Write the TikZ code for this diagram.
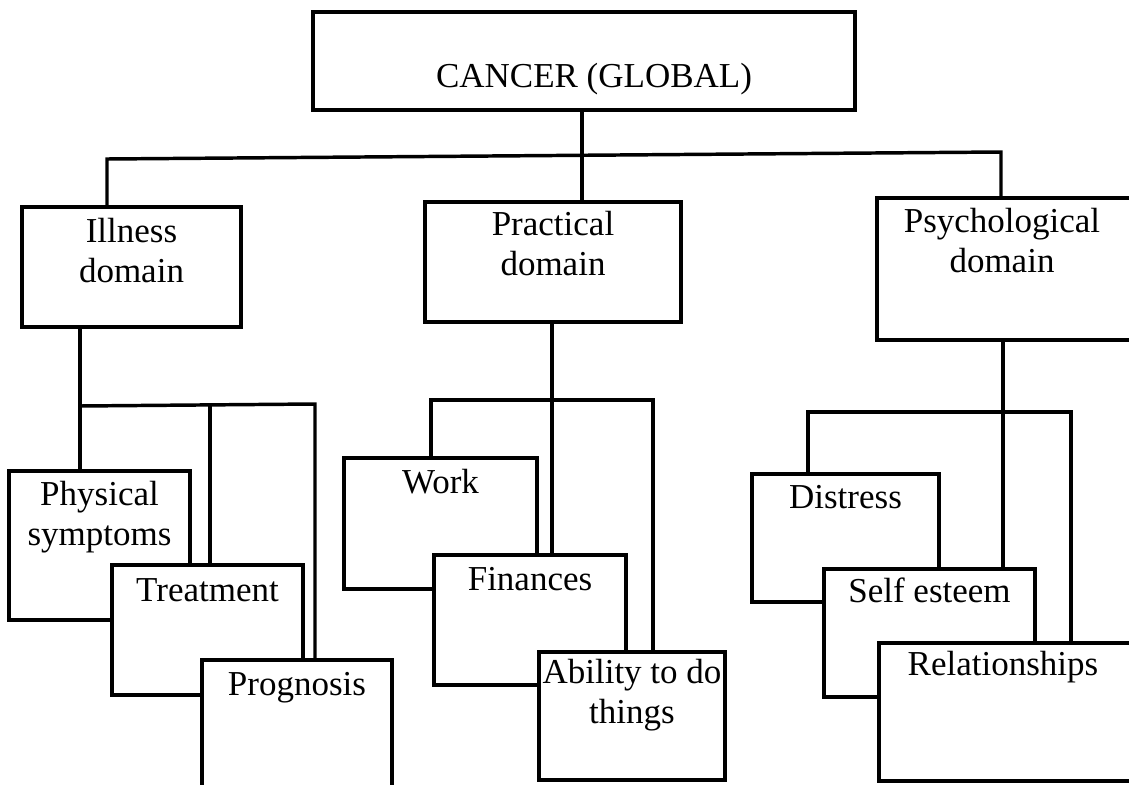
\documentclass[tikz,border=0pt]{standalone}
\usepackage{fontspec}
\setmainfont{Liberation Serif}
\begin{document}
\begin{tikzpicture}[x=0.75pt,y=-0.75pt,
  box/.style={draw, fill=white, line width=2.6pt, inner sep=0pt, outer sep=0pt},
  lbl/.style={inner sep=0pt, align=center, font=\fontsize{26.25}{30}\selectfont},
  conn/.style={line width=2.6pt, line join=miter}]
% a box given by its corners (in px); its text sits with the baseline of its
% last line a fixed distance below the top edge
\newcommand{\domainbox}[8][0]{%
  \node[box, minimum width={(#4-#2)*0.75pt}, minimum height={(#5-#3)*0.75pt}]
    (#6) at ({(#2+#4)/2},{(#3+#5)/2}) {};
  \node[lbl, anchor=base] (#6-text) at ([xshift={#1*0.75pt}, yshift={-#7*0.75pt}]#6.north) {#8};
}
\useasboundingbox (0,0) rectangle (1129,785);
\fill[white] (0,0) rectangle (1129,785);
\clip (0,0) rectangle (1129,785);

% junction points of the connectors
\coordinate (l0) at (107,159);
\coordinate (m0) at (582,155);
\coordinate (r0) at (1001,152);
\coordinate (i0) at (80,406);
\coordinate (i1) at (210,405);
\coordinate (i2) at (315,404);
\coordinate (p0) at (431,400);
\coordinate (p1) at (552,400);
\coordinate (p2) at (653,400);
\coordinate (s0) at (808,412);
\coordinate (s1) at (1003,412);
\coordinate (s2) at (1071,412);

% top level
\domainbox[10]{313}{12}{855}{110}{cancer}{75}{CANCER (GLOBAL)}
\domainbox{22}{207}{241}{327}{ill}{75}{Illness\\domain}
\domainbox{425}{202}{681}{322}{prac}{73}{Practical\\domain}
\domainbox[-4]{877}{198}{1135}{340}{psy}{74}{Psychological\\domain}

% second level, each box overlapping the one before
\domainbox{9}{471}{190}{620}{phys}{74}{Physical\\symptoms}
\domainbox{112}{565}{303}{695}{treat}{36}{Treatment}
\domainbox{202}{660}{392}{800}{prog}{35}{Prognosis}

\domainbox{344}{458}{537}{589}{work}{35}{Work}
\domainbox{434}{555}{626}{685}{fin}{35}{Finances}
\domainbox{539}{652}{725}{780}{abil}{71}{Ability to do\\things}

\domainbox{752}{474}{939}{602}{dist}{34}{Distress}
\domainbox{824}{569}{1035}{697}{self}{33}{Self esteem}
\domainbox[-4]{879}{643}{1135}{781}{rel}{32}{Relationships}

% connectors
\begin{scope}[conn]
\draw (cancer.south -| m0) -- (m0);
\draw (ill.north -| l0) -- (l0) -- (r0) -- (psy.north -| r0);
\draw (m0) -- (prac.north -| m0);

\draw (ill.south -| i0) -- (phys.north -| i0);
\draw (i0) -- (i2) -- (prog.north -| i2);
\draw (i1) -- (treat.north -| i1);

\draw (prac.south -| p1) -- (fin.north -| p1);
\draw (work.north -| p0) -- (p0) -- (p2) -- (abil.north -| p2);

\draw (psy.south -| s1) -- (self.north -| s1);
\draw (dist.north -| s0) -- (s0) -- (s2) -- (rel.north -| s2);
\end{scope}
\end{tikzpicture}
\end{document}
